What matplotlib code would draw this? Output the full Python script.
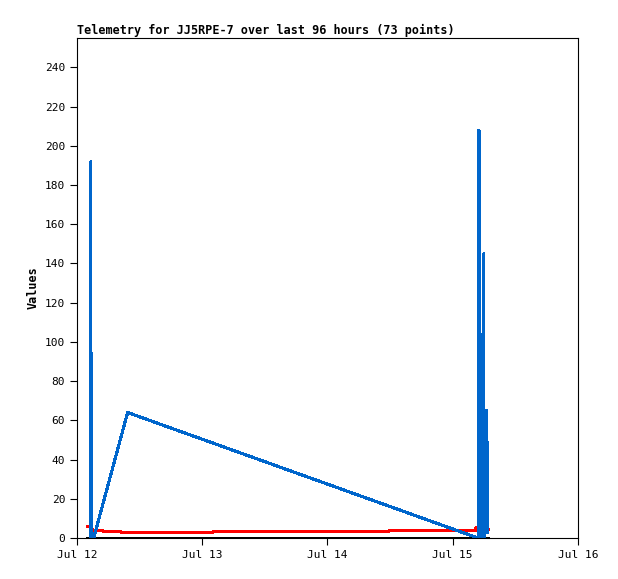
import matplotlib
matplotlib.use("Agg")
import matplotlib.pyplot as plt

# hours since Jul 12 00:00
blue_t = [2.6, 2.65, 2.7, 3.2, 9.7, 76.3, 76.8, 77.0, 77.03, 77.06, 77.1, 77.36, 77.38, 77.9, 77.95, 78.0, 78.2, 78.45, 78.5, 78.55, 78.6]
blue_v = [0, 192, 0, 0, 64, 0.5, 0, 0, 208, 0, 104, 104, 0, 0, 145, 0, 5, 5, 65, 65, 3]

red_t = [2.0, 2.5, 3.0, 4.8, 4.9, 8.3, 8.4, 26.1, 26.2, 59.7, 59.8, 76.4, 76.5, 77.5, 77.6, 78.2, 78.3, 78.8]
red_v = [6, 6, 3.8, 3.8, 3.5, 3.5, 3, 3, 3.4, 3.4, 3.8, 3.8, 5.5, 5.5, 8, 8, 4.5, 4.5]

black_t = [2.0, 78.8]
black_v = [0, 0]

xtick_pos = [0, 24, 48, 72, 96]
xtick_lab = ["Jul 12", "Jul 13", "Jul 14", "Jul 15", "Jul 16"]

plt.rcParams['font.family'] = 'DejaVu Sans Mono'

fig = plt.figure(figsize=(6.18, 5.79), dpi=100)
ax = fig.add_axes([0.1246, 0.0708, 0.8106, 0.8636])

ax.plot(black_t, black_v, color="black", lw=1.8, antialiased=False)
ax.plot(red_t, red_v, color="#ff0000", lw=1.6, antialiased=False)
ax.plot(blue_t, blue_v, color="#0066cc", lw=1.5, antialiased=False)

ax.set_xlim(0, 96)
ax.set_ylim(0, 255)
ax.set_xticks(xtick_pos)
ax.set_xticklabels(xtick_lab)
ax.set_yticks(range(0, 241, 20))
ax.tick_params(labelsize=8, length=5, direction="out")
ax.set_ylabel("Values", fontsize=8.5, fontweight="bold")
ax.set_title("Telemetry for JJ5RPE-7 over last 96 hours (73 points)",
             loc="left", fontsize=8.5, fontweight="bold", pad=3)

fig.savefig("out.png", dpi=100)
